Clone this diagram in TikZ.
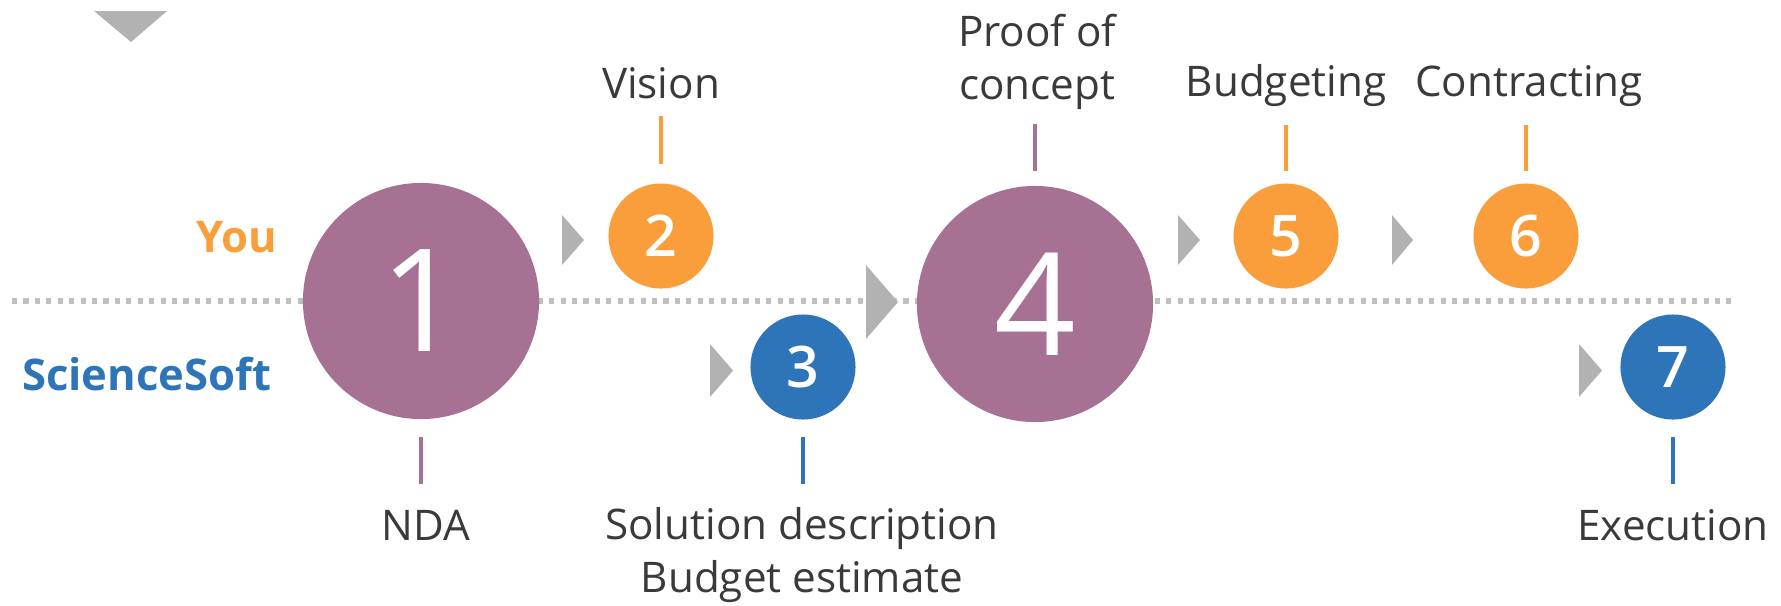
\documentclass[tikz,border=0pt]{standalone}
\usepackage{fontspec}
\setmainfont{Open Sans}
\IfFontExistsTF{Open Sans SemiBold}{\newfontfamily\numsemi{Open Sans SemiBold}}{%
  \IfFontExistsTF{Open Sans Semibold}{\newfontfamily\numsemi{Open Sans Semibold}}{%
    \newfontfamily\numsemi{Open Sans}[FakeBold=1.2]}}
\usetikzlibrary{calc}

\definecolor{plum}{RGB}{167,113,148}
\definecolor{amber}{RGB}{249,158,59}
\definecolor{ssblue}{RGB}{46,116,185}
\definecolor{arrowgray}{RGB}{178,178,178}
\definecolor{dotgray}{RGB}{192,192,192}
\definecolor{ink}{RGB}{58,58,58}

\begin{document}
\begin{tikzpicture}[x=0.01cm, y=-0.01cm,
  circ/.style={circle, inner sep=0pt, text=white},
  big/.style={circ, fill=plum, minimum size=2.36cm, font={\fontsize{40.6}{40.6}\selectfont}},
  small/.style={circ, minimum size=1.05cm, font={\numsemi\fontsize{16.3}{16.3}\selectfont}},
  lbl/.style={anchor=base, align=center, text=ink, inner sep=0pt, font={\fontsize{12}{14.8}\selectfont}},
  lane/.style={anchor=base east, inner sep=0pt, font={\bfseries\fontsize{12.4}{12.4}\selectfont}},
  tick/.style={line width=1.14pt},
  tri/.style={fill=arrowgray}]
  \useasboundingbox (0,0) rectangle (1781,605);

  % swim lane divider
  \draw[dotgray, line width=1.45pt, dash pattern=on 1.45pt off 1.8pt] (12,301) -- (1736,301);
  \node[lane, text=amber]  (you) at (278,252) {You};
  \node[lane, text=ssblue] (sci) at (272,390) {ScienceSoft};

  % steps
  \node[big] (c1) at (421,301) {1};
  \node[small, fill=amber]  (c2) at (661,236) {2};
  \node[small, fill=ssblue] (c3) at (803,367) {3};
  \node[big] (c4) at (1035,304) {4};
  \node[small, fill=amber]  (c5) at (1286,236) {5};
  \node[small, fill=amber]  (c6) at (1526,236) {6};
  \node[small, fill=ssblue] (c7) at (1673,367) {7};

  % arrows
  \fill[tri] (94,11) -- (167,11) -- (131,42) -- cycle;
  \fill[tri] (562,215) -- (584,240) -- (562,265) -- cycle;
  \fill[tri] (710,344) -- (733,370.5) -- (710,397) -- cycle;
  \fill[tri] (866,265) -- (898,302) -- (866,339) -- cycle;
  \fill[tri] (1178,215) -- (1200,240) -- (1178,265) -- cycle;
  \fill[tri] (1392,215) -- (1413,240) -- (1392,265) -- cycle;
  \fill[tri] (1579,344) -- (1602,370.5) -- (1579,397) -- cycle;

  % labels (base = last line)
  \node[lbl] (l1) at (426,540)  {NDA};
  \node[lbl] (l2) at (661,98)   {Vision};
  \node[lbl] (l3) at (802,592)  {Solution description\\Budget estimate};
  \node[lbl] (l4) at (1037,99)  {Proof of\\concept};
  \node[lbl] (l5) at (1286,96)  {Budgeting};
  \node[lbl] (l6) at (1529,96)  {Contracting};
  \node[lbl] (l7) at (1673,540) {Execution};

  \draw[tick, plum]   ($(c1.south)+(0,17)$)  -- ($(c1.south)+(0,64)$);
  \draw[tick, amber]  ($(c2.north)+(0,-67)$) -- ($(c2.north)+(0,-19)$);
  \draw[tick, ssblue] ($(c3.south)+(0,17)$)  -- ($(c3.south)+(0,64)$);
  \draw[tick, plum]   ($(c4.north)+(0,-61)$) -- ($(c4.north)+(0,-14)$);
  \draw[tick, amber]  ($(c5.north)+(0,-58)$) -- ($(c5.north)+(0,-12)$);
  \draw[tick, amber]  ($(c6.north)+(0,-58)$) -- ($(c6.north)+(0,-12)$);
  \draw[tick, ssblue] ($(c7.south)+(0,17)$)  -- ($(c7.south)+(0,64)$);
\end{tikzpicture}
\end{document}
